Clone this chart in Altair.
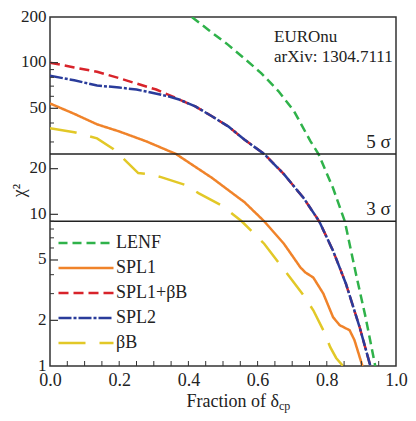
import altair as alt
import pandas as pd

# ---- data ----
lenf_x = [0.41, 0.46, 0.515, 0.565, 0.611, 0.66, 0.705, 0.753, 0.776, 0.818, 0.852, 0.884, 0.912, 0.94]
lenf_y = [200, 163, 131, 105, 85, 65, 48, 30.3, 25, 14.9, 9, 4.07, 2.1, 1.0]

spl1_x = [0, 0.07, 0.136, 0.2, 0.278, 0.364, 0.468, 0.5625, 0.619, 0.676, 0.724, 0.738, 0.761, 0.79, 0.818, 0.837, 0.866, 0.88, 0.903]
spl1_y = [53.8, 46, 39.2, 35.2, 30.3, 25, 17.4, 12.0, 9, 6.4, 4.46, 4.14, 3.83, 3.0, 2.1, 1.86, 1.72, 1.48, 1.0]

spl1bb_x = [0, 0.07, 0.136, 0.2, 0.278, 0.307, 0.355, 0.41, 0.42, 0.468, 0.515, 0.5625, 0.619, 0.676, 0.733, 0.778, 0.818, 0.855, 0.895, 0.926]
spl1bb_y = [100, 93, 87, 79, 69.6, 66.5, 59.8, 52.5, 51.5, 44.3, 38, 31, 25, 18.4, 12.8, 9, 5.76, 3.5, 1.8, 1.0]

spl2_x = [0, 0.07, 0.136, 0.2, 0.25, 0.278, 0.344, 0.373, 0.42, 0.468, 0.515, 0.5625, 0.619, 0.676, 0.733, 0.778, 0.818, 0.855, 0.895, 0.926]
spl2_y = [82, 76.5, 70.7, 68.5, 66.5, 64.5, 59.8, 57.2, 51.5, 44.3, 38, 31, 25, 18.4, 12.8, 9, 5.76, 3.5, 1.8, 1.0]

bb_x = [0, 0.07, 0.136, 0.184, 0.255, 0.287, 0.321, 0.392, 0.429, 0.497, 0.554, 0.619, 0.685, 0.733, 0.761, 0.79, 0.81, 0.827, 0.847]
bb_y = [36.9, 34.8, 31.7, 26.9, 18.7, 18.4, 17.6, 15.6, 13.8, 11.4, 9, 6.4, 4.07, 2.92, 2.33, 1.72, 1.33, 1.13, 1.0]

series_names = ["LENF", "SPL1", "SPL1+βB", "SPL2", "βB"]
series_colors = ["#2fb24a", "#f0832a", "#d8232a", "#2a3c9b", "#e2c827"]
series_dashes = [[9, 5], [1, 0], [10, 5], [13, 2, 3, 2], [27, 14]]
draw_order = ["LENF", "SPL1", "βB", "SPL1+βB", "SPL2"]

sigma_levels = [25, 9]
sigma_labels = ["5 σ", "3 σ"]

y_tick_values = [1, 2, 5, 10, 20, 50, 100, 200]
y_major_ticks = [2, 5, 10, 20, 50, 100]
y_minor_ticks = [3, 4, 6, 7, 8, 9, 30, 40, 60, 70, 80, 90]
x_tick_values = [0.0, 0.2, 0.4, 0.6, 0.8, 1.0]
x_minor_ticks = [round(0.05 * i, 2) for i in range(1, 20)]

FONT = "Liberation Serif"
W, H = 346, 349

rows = []
for name, xs, ys in [("LENF", lenf_x, lenf_y), ("SPL1", spl1_x, spl1_y),
                     ("SPL1+βB", spl1bb_x, spl1bb_y), ("SPL2", spl2_x, spl2_y),
                     ("βB", bb_x, bb_y)]:
    for i, (x, y) in enumerate(zip(xs, ys)):
        rows.append({"series": name, "x": x, "y": y, "i": i})
df = pd.DataFrame(rows)

xscale = alt.Scale(domain=[0, 1])
yscale = alt.Scale(type="log", domain=[1, 200])

x_axis = alt.Axis(values=x_tick_values, format=".1f", ticks=False, domain=False, grid=False,
                  labelFont=FONT, labelFontSize=18, labelColor="#222", labelPadding=5,
                  labelFlush=False, title=None)
y_axis = alt.Axis(values=y_tick_values, format="d", ticks=False, domain=False, grid=False,
                  labelFont=FONT, labelFontSize=17, labelColor="#222", labelPadding=4,
                  labelOffset=-1,
                  title="χ²", titleFont=FONT, titleFontSize=18, titleFontWeight="normal",
                  titleColor="#222", titleX=-31, titleY=173, titleAlign="center",
                  titleBaseline="middle", titleAngle=-90)

def X(field="x"):
    return alt.X(f"{field}:Q", scale=xscale, axis=x_axis)

def Y(field="y"):
    return alt.Y(f"{field}:Q", scale=yscale, axis=y_axis)

color_enc = alt.Color("series:N", scale=alt.Scale(domain=series_names, range=series_colors),
                      legend=alt.Legend(title=None, orient="none", legendX=27, legendY=217,
                                        symbolType="M-5,0H5", symbolSize=121,
                                        symbolStrokeWidth=2.5, labelFont=FONT,
                                        labelFontSize=18, labelColor="#222",
                                        labelOffset=21, rowPadding=7, padding=0))
dash_enc = alt.StrokeDash("series:N", scale=alt.Scale(domain=series_names, range=series_dashes),
                          legend=None)

base = alt.Chart(df)
layers = []
for name in draw_order:
    layers.append(
        base.transform_filter(alt.datum.series == name)
        .mark_line(strokeWidth=2.5, clip=True)
        .encode(x=X(), y=Y(), color=color_enc, strokeDash=dash_enc, order="i:Q")
    )

sig_df = pd.DataFrame({"y": sigma_levels, "label": sigma_labels, "x": [0.985, 0.985]})
sig_rules = alt.Chart(sig_df).mark_rule(color="#222", strokeWidth=1.5).encode(y=Y())
sig_text = alt.Chart(sig_df).mark_text(align="right", baseline="bottom", dy=-2, font=FONT,
                                       fontSize=19, color="#222").encode(
    x=X(), y=Y(), text="label:N")

ymaj = alt.Chart(pd.DataFrame({"y": y_major_ticks})).mark_rule(color="#333", strokeWidth=1.2).encode(
    y=Y(), x=alt.value(0), x2=alt.value(8))
ymin = alt.Chart(pd.DataFrame({"y": y_minor_ticks})).mark_rule(color="#333", strokeWidth=1).encode(
    y=Y(), x=alt.value(0), x2=alt.value(4))
xmin = alt.Chart(pd.DataFrame({"x": x_minor_ticks})).mark_rule(color="#333", strokeWidth=1).encode(
    x=X(), y=alt.value(H), y2=alt.value(H - 5))

note = alt.Chart(pd.DataFrame({"t": [["EUROnu", "arXiv: 1304.7111"]]})).mark_text(
    align="left", baseline="alphabetic", font=FONT, fontSize=17, color="#222", lineHeight=20
).encode(x=alt.value(224), y=alt.value(25), text="t")

xtitle_main = alt.Chart(pd.DataFrame({"t": ["Fraction of δ"]})).mark_text(
    align="right", baseline="alphabetic", font=FONT, fontSize=18, color="#222"
).encode(x=alt.value(229), y=alt.value(390), text="t:N")
xtitle_sub = alt.Chart(pd.DataFrame({"t": ["cp"]})).mark_text(
    align="left", baseline="alphabetic", font=FONT, fontSize=12, color="#222"
).encode(x=alt.value(229), y=alt.value(393), text="t:N")

chart = alt.layer(*layers, sig_rules, sig_text, ymaj, ymin, xmin, note, xtitle_main, xtitle_sub).properties(
    width=W, height=H,
    autosize=alt.AutoSizeParams(type="none"),
    padding={"left": 42, "top": 9, "right": 12, "bottom": 47},
    background="white",
).configure_view(stroke="#333", strokeWidth=1.5)

chart.save("out.html", embed_options={"renderer": "svg", "actions": False})
